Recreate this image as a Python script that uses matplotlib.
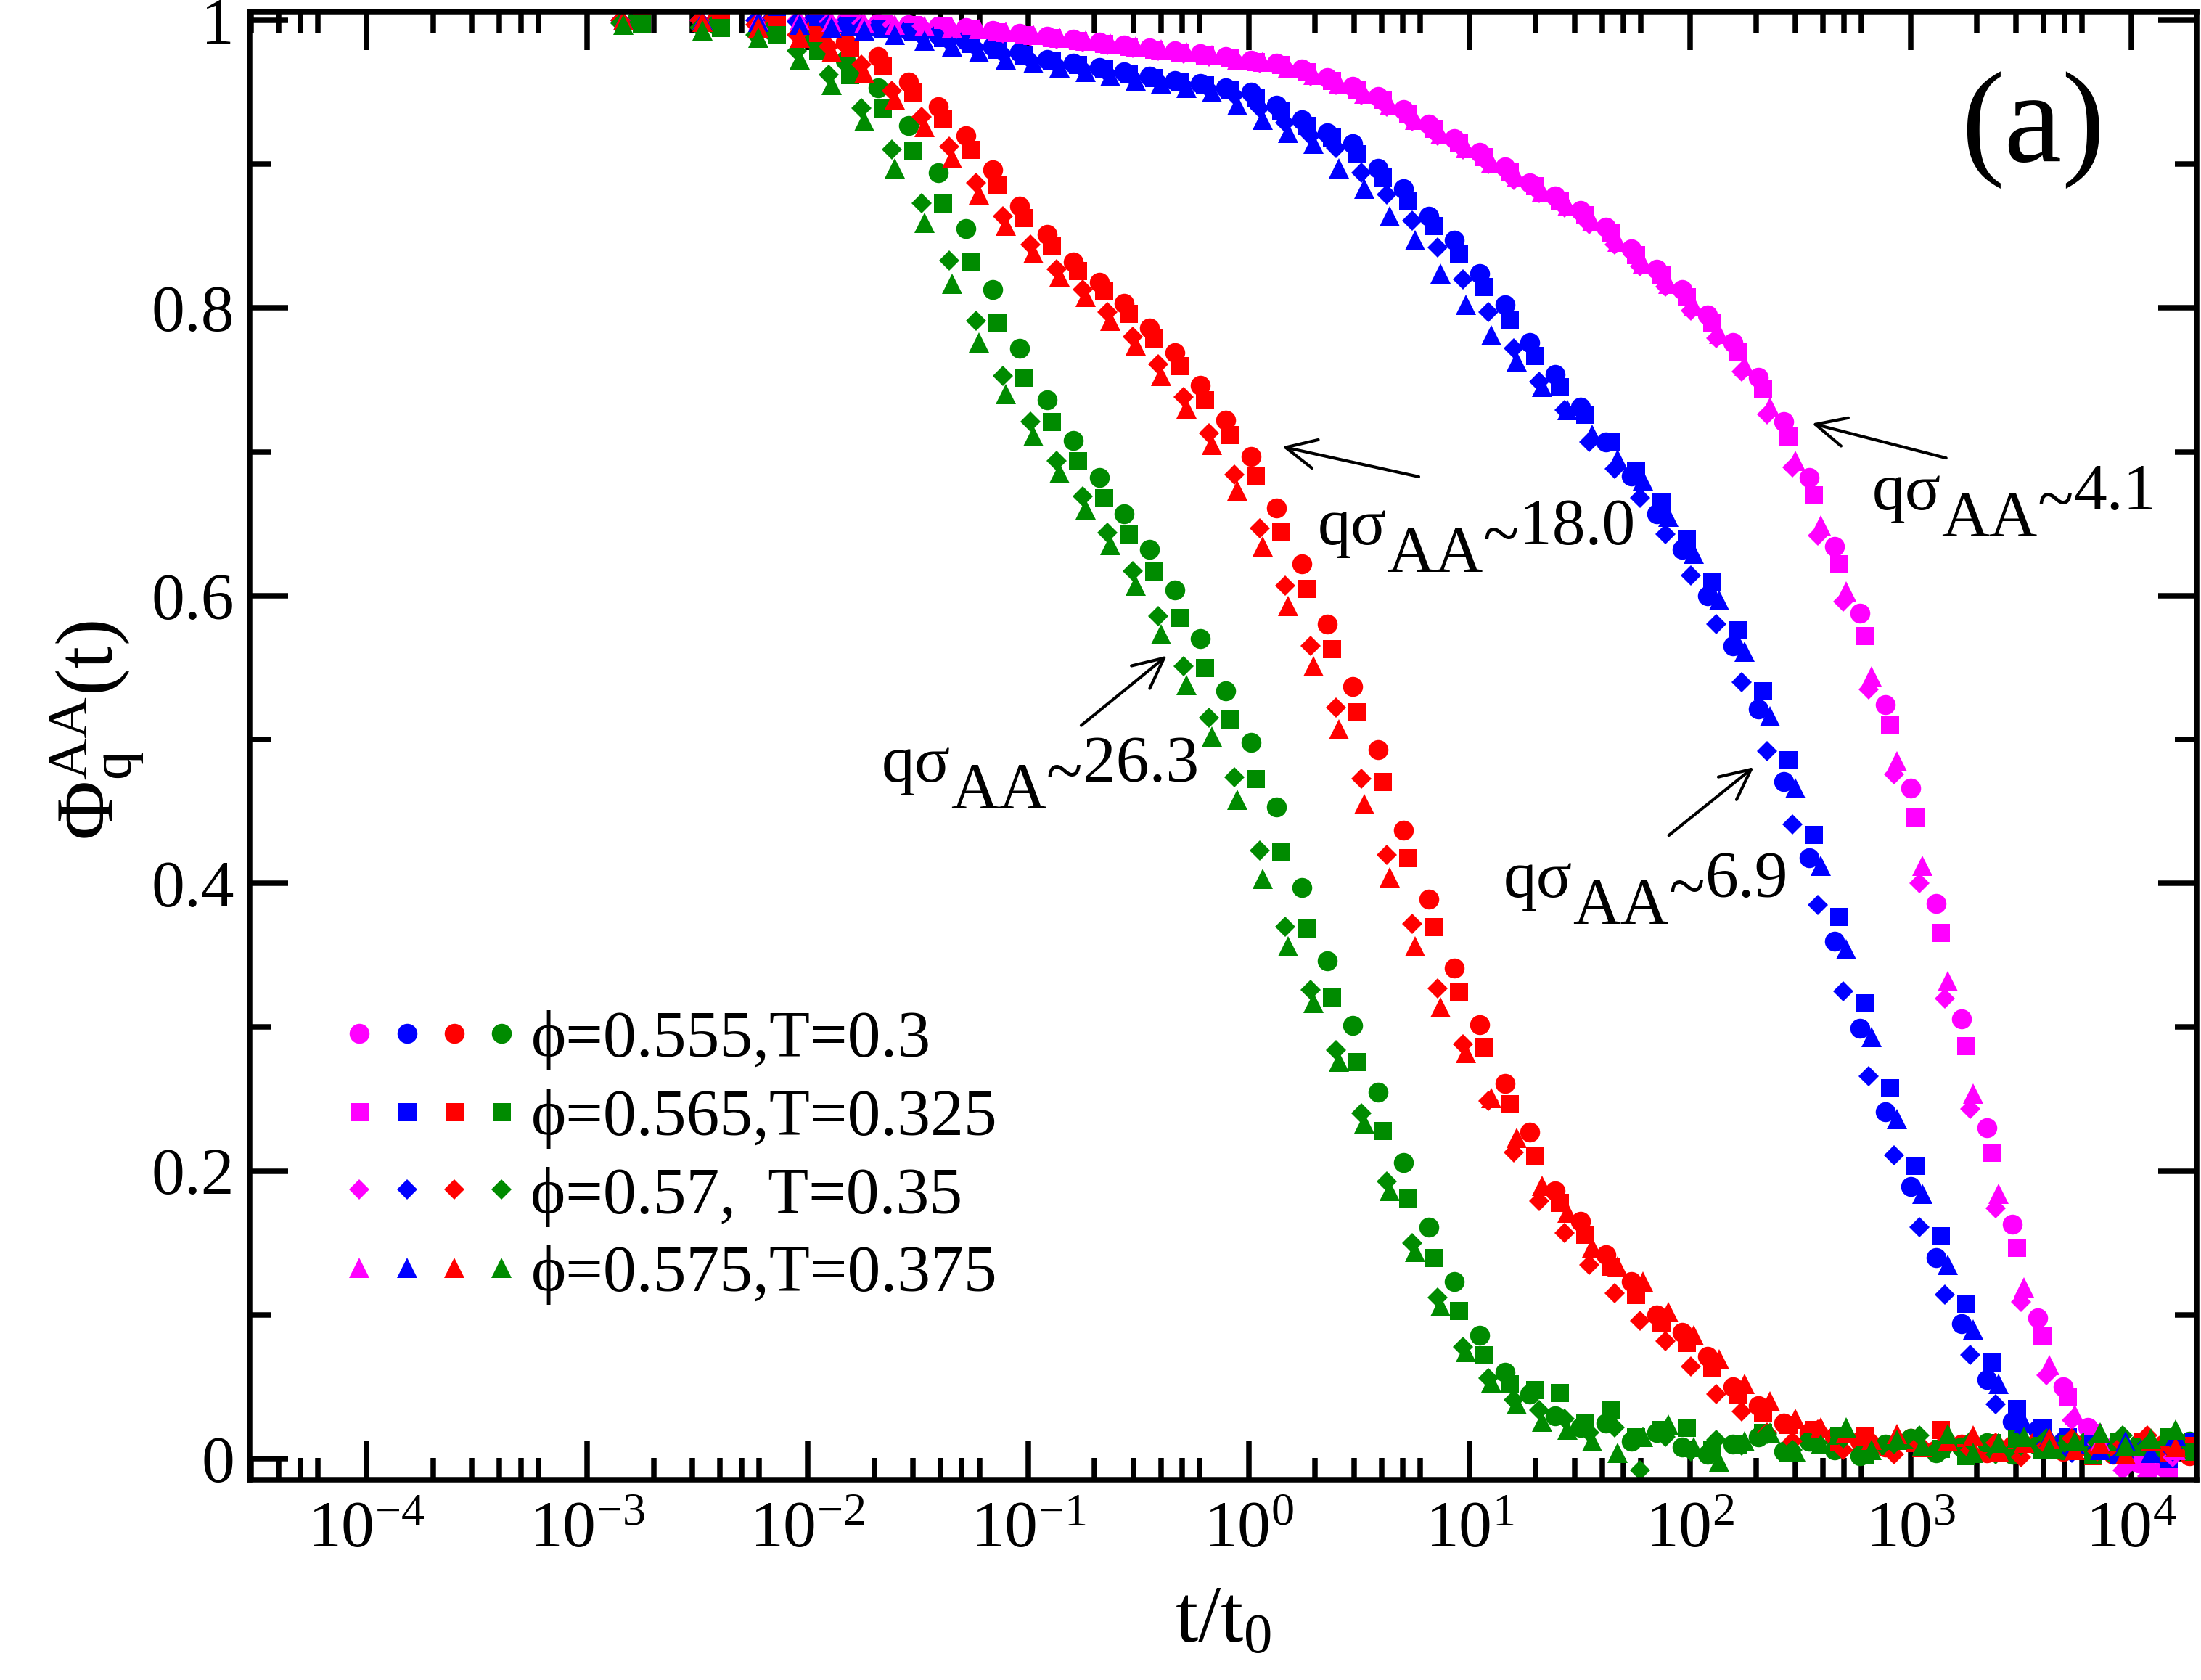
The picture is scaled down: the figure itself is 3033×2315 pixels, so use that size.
import numpy as np
import matplotlib
matplotlib.use('Agg')
import matplotlib.pyplot as plt
from matplotlib.lines import Line2D
from matplotlib.legend_handler import HandlerTuple
from matplotlib.ticker import LogLocator, NullFormatter, FixedLocator, FuncFormatter

plt.rcParams['font.family'] = ['Liberation Serif', 'DejaVu Serif']
plt.rcParams['mathtext.fontset'] = 'custom'
plt.rcParams['mathtext.rm'] = 'Liberation Serif'
plt.rcParams['mathtext.it'] = 'Liberation Serif:italic'
plt.rcParams['mathtext.bf'] = 'Liberation Serif:bold'
plt.rcParams['axes.unicode_minus'] = False

# sampling times, log10(t/t0) for the first state point
log_t = [-2.775, -2.414, -2.161, -1.975, -1.828, -1.682, -1.542, -1.409, -1.282, -1.160,
         -1.040, -0.915, -0.795, -0.678, -0.565, -0.450, -0.335, -0.220, -0.105, 0.010,
         0.125, 0.240, 0.355, 0.470, 0.585, 0.700, 0.815, 0.930, 1.045, 1.160,
         1.275, 1.390, 1.505, 1.620, 1.735, 1.850, 1.965, 2.080, 2.195, 2.310,
         2.425, 2.540, 2.655, 2.770, 2.885, 3.000, 3.115, 3.230, 3.345, 3.460,
         3.575, 3.690, 3.805, 3.920, 4.035, 4.150, 4.265]
# t0 of each state point relative to the first one
t_scale = [1.0, 1.047, 0.841, 0.867]

states = ['ϕ=0.555,T=0.3', 'ϕ=0.565,T=0.325', 'ϕ=0.57,  T=0.35', 'ϕ=0.575,T=0.375']
q_values = ['4.1', '6.9', '18.0', '26.3']

# q sigma ~ 4.1 (magenta)
mag_c = [1.000, 1.000, 1.000, 1.000, 0.999, 0.998, 0.997, 0.996, 0.995, 0.993,
         0.991, 0.989, 0.987, 0.985, 0.983, 0.981, 0.979, 0.977, 0.975, 0.972,
         0.970, 0.966, 0.960, 0.954, 0.947, 0.938, 0.928, 0.918, 0.908, 0.898,
         0.887, 0.878, 0.868, 0.856, 0.841, 0.827, 0.813, 0.795, 0.776, 0.752,
         0.721, 0.682, 0.634, 0.588, 0.524, 0.466, 0.386, 0.306, 0.230, 0.163,
         0.098, 0.050, 0.022, 0.008, -0.003, -0.006, 0.004]
mag_s = [1.000, 1.000, 1.000, 1.000, 0.999, 0.998, 0.997, 0.996, 0.994, 0.992,
         0.990, 0.988, 0.986, 0.984, 0.982, 0.980, 0.978, 0.976, 0.974, 0.971,
         0.969, 0.964, 0.958, 0.952, 0.945, 0.935, 0.925, 0.915, 0.905, 0.895,
         0.885, 0.875, 0.865, 0.852, 0.837, 0.823, 0.808, 0.790, 0.770, 0.744,
         0.711, 0.670, 0.622, 0.572, 0.510, 0.446, 0.366, 0.287, 0.213, 0.147,
         0.086, 0.043, 0.018, 0.005, 0.002, -0.010, 0.008]
mag_d = [1.000, 1.000, 1.000, 1.000, 0.999, 0.998, 0.997, 0.996, 0.995, 0.993,
         0.991, 0.989, 0.987, 0.985, 0.983, 0.981, 0.979, 0.977, 0.975, 0.973,
         0.970, 0.967, 0.961, 0.955, 0.948, 0.940, 0.930, 0.920, 0.910, 0.900,
         0.889, 0.880, 0.870, 0.858, 0.844, 0.829, 0.815, 0.798, 0.779, 0.756,
         0.726, 0.689, 0.642, 0.596, 0.535, 0.476, 0.400, 0.320, 0.243, 0.174,
         0.109, 0.058, 0.027, 0.010, -0.008, -0.012, 0.001]
mag_t = [1.000, 1.000, 1.000, 1.000, 0.999, 0.998, 0.997, 0.996, 0.995, 0.994,
         0.992, 0.990, 0.988, 0.986, 0.984, 0.982, 0.980, 0.978, 0.976, 0.973,
         0.971, 0.967, 0.962, 0.956, 0.949, 0.941, 0.931, 0.921, 0.911, 0.901,
         0.891, 0.881, 0.871, 0.860, 0.846, 0.831, 0.817, 0.801, 0.782, 0.760,
         0.731, 0.694, 0.649, 0.603, 0.544, 0.485, 0.412, 0.332, 0.254, 0.184,
         0.119, 0.065, 0.031, 0.012, 0.000, -0.004, 0.006]

# q sigma ~ 6.9 (blue)
blue_c = [1.000, 1.000, 1.000, 0.999, 0.997, 0.995, 0.993, 0.990, 0.986, 0.982,
          0.978, 0.973, 0.970, 0.967, 0.964, 0.961, 0.958, 0.956, 0.953, 0.950,
          0.941, 0.931, 0.922, 0.914, 0.897, 0.883, 0.864, 0.847, 0.824, 0.802,
          0.776, 0.754, 0.731, 0.707, 0.683, 0.657, 0.632, 0.600, 0.565, 0.521,
          0.471, 0.418, 0.360, 0.299, 0.241, 0.189, 0.140, 0.094, 0.055, 0.026,
          0.020, 0.012, 0.008, 0.005, 0.006, 0.003, 0.008]
blue_s = [1.000, 1.000, 1.000, 0.998, 0.996, 0.994, 0.992, 0.988, 0.984, 0.980,
          0.976, 0.972, 0.969, 0.966, 0.963, 0.960, 0.957, 0.955, 0.952, 0.946,
          0.937, 0.927, 0.919, 0.907, 0.891, 0.875, 0.857, 0.838, 0.815, 0.792,
          0.767, 0.745, 0.726, 0.707, 0.687, 0.665, 0.640, 0.610, 0.576, 0.534,
          0.486, 0.434, 0.377, 0.317, 0.258, 0.204, 0.155, 0.108, 0.067, 0.035,
          0.022, 0.015, 0.010, 0.003, 0.009, 0.000, 0.012]
blue_d = [1.000, 1.000, 1.000, 0.999, 0.997, 0.995, 0.992, 0.989, 0.985, 0.981,
          0.977, 0.972, 0.969, 0.966, 0.963, 0.960, 0.958, 0.955, 0.952, 0.948,
          0.939, 0.929, 0.920, 0.911, 0.894, 0.879, 0.861, 0.842, 0.820, 0.797,
          0.772, 0.749, 0.729, 0.707, 0.688, 0.668, 0.643, 0.614, 0.580, 0.540,
          0.492, 0.441, 0.385, 0.325, 0.266, 0.211, 0.161, 0.114, 0.072, 0.038,
          0.023, 0.010, 0.004, 0.007, 0.002, 0.010, 0.005]
blue_t = [1.000, 1.000, 0.999, 0.997, 0.995, 0.993, 0.990, 0.986, 0.982, 0.978,
          0.973, 0.970, 0.967, 0.964, 0.961, 0.958, 0.956, 0.953, 0.950, 0.941,
          0.931, 0.922, 0.914, 0.897, 0.883, 0.864, 0.847, 0.824, 0.802, 0.781,
          0.763, 0.745, 0.729, 0.712, 0.695, 0.680, 0.655, 0.629, 0.597, 0.561,
          0.516, 0.466, 0.412, 0.354, 0.293, 0.236, 0.184, 0.135, 0.090, 0.052,
          0.025, 0.015, 0.010, 0.006, 0.012, 0.004, 0.016]

# q sigma ~ 18.0 (red)
red_c = [1.000, 1.000, 0.999, 0.993, 0.985, 0.975, 0.957, 0.940, 0.920, 0.896,
         0.871, 0.851, 0.832, 0.818, 0.803, 0.786, 0.769, 0.746, 0.722, 0.697,
         0.661, 0.622, 0.580, 0.537, 0.493, 0.437, 0.389, 0.341, 0.302, 0.261,
         0.227, 0.186, 0.165, 0.142, 0.123, 0.100, 0.088, 0.071, 0.050, 0.037,
         0.025, 0.018, 0.015, 0.012, 0.008, 0.014, 0.006, 0.010, 0.004, 0.009,
         0.012, 0.005, 0.008, 0.003, 0.007, 0.010, 0.002]
red_s = [1.000, 1.000, 0.997, 0.990, 0.981, 0.968, 0.950, 0.932, 0.910, 0.886,
         0.863, 0.843, 0.826, 0.812, 0.796, 0.779, 0.760, 0.736, 0.712, 0.683,
         0.645, 0.605, 0.563, 0.519, 0.471, 0.418, 0.370, 0.325, 0.286, 0.247,
         0.211, 0.178, 0.156, 0.134, 0.114, 0.095, 0.081, 0.063, 0.045, 0.032,
         0.024, 0.020, 0.012, 0.016, 0.008, 0.011, 0.020, 0.004, 0.009, 0.013,
         0.006, 0.010, 0.002, 0.008, 0.012, 0.004, 0.009]
red_d = [1.000, 1.000, 0.997, 0.990, 0.982, 0.969, 0.951, 0.933, 0.912, 0.887,
         0.864, 0.844, 0.827, 0.813, 0.797, 0.780, 0.761, 0.738, 0.713, 0.684,
         0.647, 0.607, 0.565, 0.522, 0.473, 0.420, 0.372, 0.327, 0.288, 0.249,
         0.213, 0.179, 0.157, 0.135, 0.115, 0.096, 0.082, 0.064, 0.045, 0.033,
         0.018, 0.012, 0.020, 0.006, 0.014, 0.003, 0.010, 0.015, 0.006, 0.011,
         0.001, 0.009, 0.014, 0.005, 0.010, 0.016, 0.006]
red_t = [1.000, 0.999, 0.995, 0.988, 0.978, 0.963, 0.945, 0.926, 0.904, 0.879,
         0.857, 0.838, 0.822, 0.808, 0.791, 0.774, 0.753, 0.730, 0.705, 0.673,
         0.634, 0.593, 0.551, 0.507, 0.455, 0.404, 0.356, 0.314, 0.282, 0.251,
         0.223, 0.190, 0.171, 0.147, 0.134, 0.123, 0.102, 0.086, 0.069, 0.052,
         0.040, 0.028, 0.022, 0.018, 0.013, 0.017, 0.008, 0.012, 0.016, 0.005,
         0.011, 0.014, 0.006, 0.010, 0.003, 0.012, 0.008]

# q sigma ~ 26.3 (green)
green_c = [1.000, 0.997, 0.993, 0.987, 0.972, 0.953, 0.927, 0.894, 0.855, 0.813,
           0.772, 0.736, 0.708, 0.682, 0.657, 0.632, 0.604, 0.570, 0.534, 0.498,
           0.453, 0.397, 0.346, 0.301, 0.255, 0.206, 0.161, 0.123, 0.086, 0.060,
           0.045, 0.030, 0.022, 0.025, 0.012, 0.018, 0.008, 0.003, 0.010, 0.015,
           0.005, 0.012, 0.006, 0.002, 0.010, 0.014, 0.004, 0.008, 0.011, 0.003,
           0.009, 0.006, 0.012, 0.004, 0.010, 0.007, 0.012]
green_s = [0.998, 0.995, 0.990, 0.979, 0.962, 0.939, 0.909, 0.873, 0.832, 0.790,
           0.752, 0.721, 0.694, 0.668, 0.643, 0.617, 0.585, 0.550, 0.514, 0.473,
           0.422, 0.369, 0.321, 0.276, 0.228, 0.181, 0.140, 0.103, 0.072, 0.052,
           0.048, 0.046, 0.025, 0.034, 0.015, 0.020, 0.022, 0.006, 0.010, 0.018,
           0.004, 0.012, 0.016, 0.003, 0.009, 0.013, 0.007, 0.002, 0.011, 0.014,
           0.006, 0.010, 0.003, 0.012, 0.008, 0.015, 0.005]
green_d = [0.998, 0.995, 0.990, 0.979, 0.962, 0.939, 0.910, 0.873, 0.833, 0.791,
           0.753, 0.721, 0.694, 0.669, 0.644, 0.617, 0.586, 0.551, 0.515, 0.474,
           0.423, 0.370, 0.326, 0.284, 0.240, 0.193, 0.150, 0.112, 0.078, 0.056,
           0.041, 0.034, 0.028, 0.018, 0.022, -0.008, 0.015, 0.005, 0.013, 0.009,
           0.017, 0.006, 0.011, 0.014, 0.004, 0.010, 0.016, 0.007, 0.012, 0.003,
           0.009, 0.014, 0.006, 0.011, 0.016, 0.009, 0.013]
green_t = [0.997, 0.993, 0.988, 0.973, 0.955, 0.930, 0.897, 0.859, 0.817, 0.776,
           0.740, 0.711, 0.685, 0.660, 0.635, 0.607, 0.573, 0.538, 0.502, 0.458,
           0.403, 0.356, 0.317, 0.276, 0.233, 0.186, 0.144, 0.106, 0.074, 0.053,
           0.038, 0.026, 0.020, 0.012, 0.004, 0.015, 0.024, 0.008, -0.002, 0.012,
           0.018, 0.005, 0.010, 0.022, 0.006, 0.013, 0.009, 0.017, 0.004, 0.011,
           0.015, 0.007, 0.012, 0.018, 0.009, 0.014, 0.020]

series = [[mag_c, mag_s, mag_d, mag_t],
          [blue_c, blue_s, blue_d, blue_t],
          [red_c, red_s, red_d, red_t],
          [green_c, green_s, green_d, green_t]]
colors = ['#ff00ff', '#0000ff', '#ff0000', '#008b00']
markers = ['o', 's', 'D', '^']
msizes = [6.6, 6.0, 4.9, 6.7]

t = 10 ** np.array(log_t)

fig = plt.figure(figsize=(3033 / 300, 2315 / 300), dpi=300)
ax = fig.add_axes([0.1134, 0.1192, 0.8846, 0.8741])

for si in range(4):
    for ci in range(4):
        ax.plot(t * t_scale[si], series[ci][si], ls='none', marker=markers[si],
                ms=msizes[si], color=colors[ci], mew=0)

ax.set_xscale('log')
ax.set_xlim(2.95e-5, 1.98e4)
ax.set_ylim(-0.0146, 1.0063)

ax.xaxis.set_major_locator(LogLocator(base=10, numticks=20))
ax.xaxis.set_minor_locator(LogLocator(base=10, subs=[2, 3, 4, 5, 6], numticks=40))
ax.xaxis.set_minor_formatter(NullFormatter())
ax.yaxis.set_major_locator(FixedLocator([0, 0.2, 0.4, 0.6, 0.8, 1.0]))
ax.yaxis.set_minor_locator(FixedLocator([0.1, 0.3, 0.5, 0.7, 0.9]))
ax.yaxis.set_major_formatter(FuncFormatter(lambda v, p: '%g' % v))

ax.tick_params(which='both', direction='in', top=True, right=True, width=1.8)
ax.tick_params(which='major', length=12.7, labelsize=22)
ax.tick_params(axis='y', which='major', pad=5)
ax.tick_params(axis='x', which='major', pad=7)
ax.tick_params(which='minor', length=7.2)
for sp in ax.spines.values():
    sp.set_linewidth(1.8)

ax.set_xlabel(r'$\mathrm{t/t_0}$', fontsize=27)
ax.xaxis.set_label_coords(0.5, -0.072)
ax.set_ylabel(r'$\Phi_{\mathrm{q}}^{\mathrm{AA}}\mathrm{(t)}$', fontsize=27)
ax.yaxis.set_label_coords(-0.053, 0.51)

ax.text(0.879, 0.898, '(a)', transform=ax.transAxes, fontsize=43,
        ha='left', va='baseline')

# q labels with full-size lowered subscript
fs = 22
def q_label(x, y, val):
    t1 = ax.text(x, y, 'qσ', fontsize=fs, ha='left', va='baseline')
    t2 = ax.annotate('AA', xy=(1, 0), xycoords=t1, xytext=(0, -8.9),
                     textcoords='offset points', fontsize=fs, ha='left', va='bottom')
    t3 = ax.annotate('~', xy=(1, 0), xycoords=t2, xytext=(0, 5.4),
                     textcoords='offset points', fontsize=fs, ha='left', va='bottom')
    ax.annotate(val, xy=(1, 0), xycoords=t3, xytext=(0, 3.5),
                textcoords='offset points', fontsize=fs, ha='left', va='bottom')

def arrow(tail, head):
    ax.annotate('', xy=head, xytext=tail,
                arrowprops=dict(arrowstyle='->,head_length=0.5,head_width=0.24',
                                color='black', lw=1.0, shrinkA=0, shrinkB=0,
                                mutation_scale=20))

q_label(10 ** 2.826, 0.660, q_values[0])
arrow((10 ** 3.161, 0.6957), (10 ** 2.553, 0.7197))
q_label(10 ** 1.155, 0.3905, q_values[1])
arrow((10 ** 1.904, 0.4334), (10 ** 2.289, 0.4808))
q_label(10 ** 0.3125, 0.6355, q_values[2])
arrow((10 ** 0.770, 0.6827), (10 ** 0.151, 0.7036))
q_label(10 ** -1.666, 0.4707, q_values[3])
arrow((10 ** -0.76, 0.5098), (10 ** -0.372, 0.5582))

handles = []
for si in range(4):
    handles.append(tuple(Line2D([], [], ls='none', marker=markers[si], ms=msizes[si],
                                color=c, mew=0) for c in colors))
ax.legend(handles, states, handler_map={tuple: HandlerTuple(ndivide=None, pad=0)},
          loc='upper left', bbox_to_anchor=(0.0443, 0.320), borderaxespad=0,
          borderpad=0, frameon=False, fontsize=22, handlelength=2.85,
          handletextpad=0.08, labelspacing=0.27)

fig.savefig('out.png', dpi=300)
